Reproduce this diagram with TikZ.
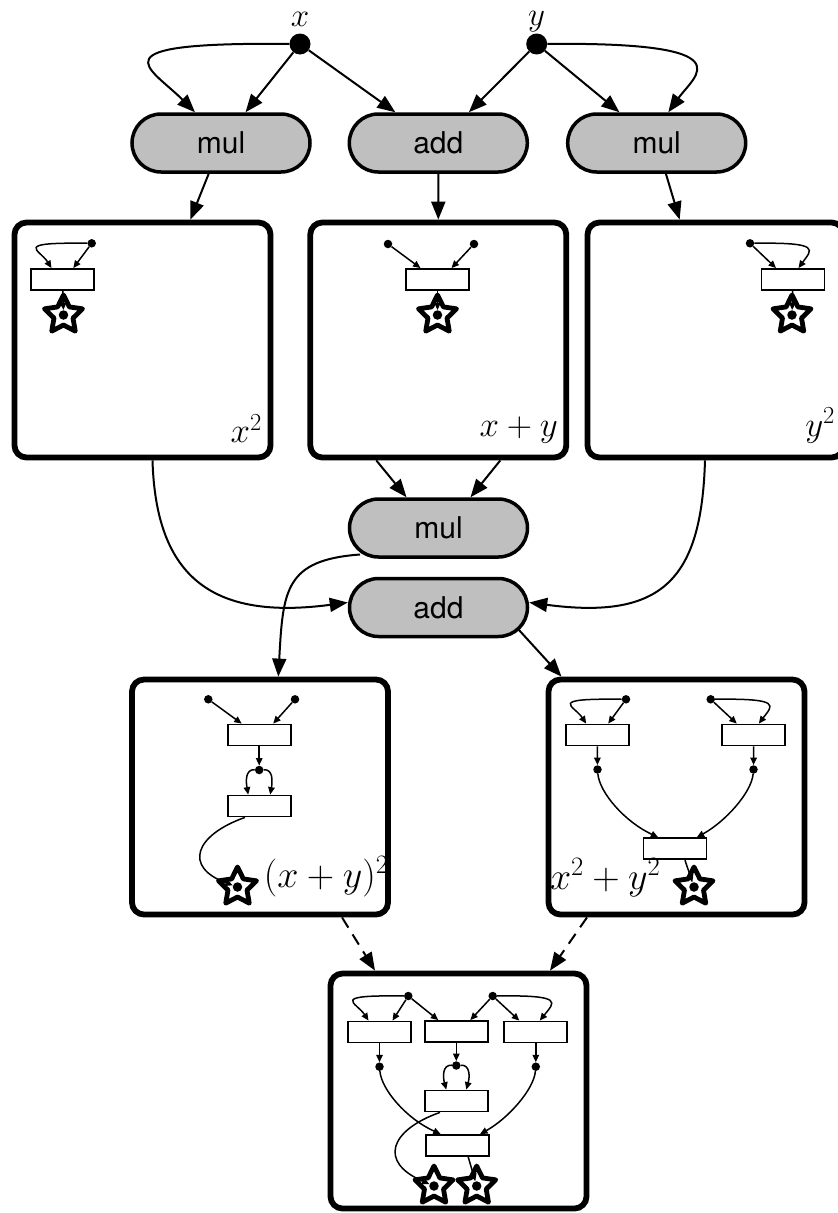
\RequirePackage{fix-cm}
\documentclass[tikz,border=0pt]{standalone}
\usepackage{fontspec}
\newfontfamily\pillfont{TeX Gyre Heros}
\usetikzlibrary{arrows.meta,shapes.misc,shapes.geometric,calc}

\begin{document}
\begin{tikzpicture}[x=1pt,y=-1pt,
  op/.style={rounded rectangle, draw, line width=3.5pt, fill=black!25,
    minimum width=178pt, minimum height=58pt, inner sep=0pt,
    font=\pillfont\fontsize{30}{36}\selectfont},
  panel/.style={draw, line width=5.8pt, rounded corners=12pt,
    minimum width=256pt, minimum height=235pt, inner sep=0pt},
  src/.style={circle, fill=black, inner sep=0pt, minimum size=21pt},
  flow/.style={line width=2pt, -{Triangle[length=18pt,width=14pt]}},
  port/.style={circle, fill=black, inner sep=0pt, minimum size=8.5pt},
  hub/.style={circle, fill=black, inner sep=0pt, minimum size=9.5pt},
  cell/.style={draw, line width=1.8pt, fill=white, minimum width=63pt,
    minimum height=21pt, inner sep=0pt},
  outstar/.style={star, star points=5, star point ratio=2.0, draw,
    line width=4.8pt, line join=round, fill=white, minimum size=40pt,
    inner sep=0pt},
  wire/.style={line width=1.5pt, -{Triangle[length=7.5pt,width=6.5pt]}},
  biglabel/.style={inner sep=0pt, font=\fontsize{35}{40}\selectfont},
  widelabel/.style={inner sep=0pt, font=\fontsize{38}{44}\selectfont},
  toplabel/.style={inner sep=0pt, font=\fontsize{33}{38}\selectfont},
]
\useasboundingbox (0,0) rectangle (838,1213);
\clip (0,0) rectangle (838,1213);

% inputs
\node[src] (xs) at (300,44) {};
\node[src] (ys) at (536.7,44) {};
\node[toplabel, anchor=base] (xl) at ([yshift=7pt]xs.north) {$x$};
\node[toplabel, anchor=base] (yl) at ([yshift=8pt]ys.north) {$y$};

% first operations
\node[op] (m1) at (221,143) {mul};
\node[op] (a1) at (438.3,143) {add};
\node[op] (m2) at (656.7,143) {mul};

% result panels
\node[panel] (b1) at (142.5,340) {};
\node[panel] (b2) at (438.3,340) {};
\node[panel] (b3) at (715.5,340) {};
\node[op] (m3) at (438.5,528) {mul};
\node[op] (a2) at (438.5,607.5) {add};
\node[panel] (b4) at (260,797) {};
\node[panel] (b5) at (676.5,797) {};
\node[panel] (b6) at (458.5,1091) {};

% panel labels
\node[biglabel, anchor=south east] (l1) at ($(b1.south east)+(-11.25,-17.25)$) {$x^2$};
\node[biglabel, anchor=south east] (l2) at ($(b2.south east)+(-11.25,-17.25)$) {$x+y$};
\node[biglabel, anchor=south east] (l3) at ($(b3.south east)+(-11.25,-17.25)$) {$y^2$};

% panel 1: x^2
\node[port] (p1a) at (91.7,243.3) {};
\node[cell] (c1a) at (62.5,279.5) {};
\node[outstar] (s1) at (63.5,315) {};
\node[hub] (s1d) at (63.5,315) {};
\draw[wire] (p1a) -- ([xshift=10.8pt]c1a.north);
\draw[wire] (p1a) .. controls (11.7,242.3) and (39.7,249.3) .. ([xshift=-11pt]c1a.north);
\draw[wire] (c1a) -- (s1d);

% panel 2: x+y
\node[port] (p2a) at (388,244) {};
\node[port] (p2b) at (474,244) {};
\node[cell] (c2a) at (437.5,279.5) {};
\node[outstar] (s2) at (437.5,315) {};
\node[hub] (s2d) at (437.5,315) {};
\draw[wire] (p2a) -- ([xshift=-17pt]c2a.north);
\draw[wire] (p2b) -- ([xshift=14pt]c2a.north);
\draw[wire] (c2a) -- (s2d);

% panel 3: y^2
\node[port] (p3a) at (750,243.3) {};
\node[cell] (c3a) at (793,279.5) {};
\node[outstar] (s3) at (792,315) {};
\node[hub] (s3d) at (792,315) {};
\draw[wire] (p3a) -- ([xshift=-17pt]c3a.north);
\draw[wire] (p3a) .. controls (822,242.3) and (812,249.3) .. ([xshift=5.5pt]c3a.north);
\draw[wire] (c3a) -- (s3d);

% panel 4: (x+y)^2
\node[port] (p4a) at (208.3,699.3) {};
\node[port] (p4b) at (295,699.3) {};
\node[cell] (c4a) at (259.2,735) {};
\node[port] (p4c) at (259.2,770) {};
\node[cell] (c4b) at (259.2,806) {};
\node[outstar] (s4) at (237.5,887) {};
\node[hub] (s4d) at (237.5,887) {};
\draw[wire] (p4a) -- ([xshift=-17.5pt]c4a.north);
\draw[wire] (p4b) -- ([xshift=14pt]c4a.north);
\draw[wire] (c4a) -- (p4c);
\draw[wire] (p4c) .. controls (245,769) and (246,782) .. ([xshift=-11pt]c4b.north);
\draw[wire] (p4c) .. controls (273.4,769) and (272.4,782) .. ([xshift=11pt]c4b.north);
\draw[wire] ([xshift=-14.2pt]c4b.south) .. controls (195,835) and (183,867) .. (s4d);
\node[widelabel, anchor=south east] (l4) at ($(b4.south east)+(-2.25,-20.5)$) {$(x+y)^2$};

% panel 5: x^2+y^2
\node[port] (p5a) at (626,699.3) {};
\node[port] (p5b) at (710.7,699.3) {};
\node[cell] (c5a) at (597.2,735) {};
\node[cell] (c5b) at (753.8,735) {};
\node[port] (p5c) at (597.5,769.5) {};
\node[port] (p5d) at (753.5,769.5) {};
\node[cell] (c5c) at (675,848.8) {};
\node[outstar] (s5) at (694,887) {};
\node[hub] (s5d) at (694,887) {};
\draw[wire] (p5a) .. controls (546,698.3) and (574,705.3) .. ([xshift=-11pt]c5a.north);
\draw[wire] (p5a) -- ([xshift=11pt]c5a.north);
\draw[wire] (p5b) -- ([xshift=-17pt]c5b.north);
\draw[wire] (p5b) .. controls (782.7,698.3) and (772.7,705.3) .. ([xshift=5pt]c5b.north);
\draw[wire] (c5a) -- (p5c);
\draw[wire] (c5b) -- (p5d);
\draw[wire] (p5c) .. controls (599.5,792.5) and (624.5,821.5) .. ([xshift=-16.7pt]c5c.north);
\draw[wire] (p5d) .. controls (751.5,792.5) and (725.5,821.5) .. ([xshift=21.7pt]c5c.north);
\draw[wire] ([xshift=10pt]c5c.south) -- (s5d);
\node[widelabel, anchor=south west] (l5) at ($(b5.south west)+(4.25,-20.5)$) {$x^2+y^2$};

% panel 6: combined graph
\node[port] (p6a) at (408.3,996) {};
\node[port] (p6b) at (492.7,996) {};
\node[cell] (c6a) at (379.5,1032) {};
\node[cell] (c6b) at (456.3,1031.5) {};
\node[cell] (c6c) at (535.8,1032) {};
\node[port] (p6c) at (379.5,1066.7) {};
\node[port] (p6d) at (456.3,1065.5) {};
\node[port] (p6e) at (535.8,1066.7) {};
\node[cell] (c6d) at (456.3,1101) {};
\node[cell] (c6e) at (457.2,1145.5) {};
\node[outstar] (s6a) at (434,1186) {};
\node[hub] (s6ad) at (434,1186) {};
\node[outstar] (s6b) at (476.7,1186) {};
\node[hub] (s6bd) at (476.7,1186) {};
\draw[wire] (p6a) .. controls (328.3,995) and (356.3,1002) .. ([xshift=-11pt]c6a.north);
\draw[wire] (p6a) -- ([xshift=13pt]c6a.north);
\draw[wire] (p6a) -- ([xshift=-18pt]c6b.north);
\draw[wire] (p6b) -- ([xshift=14pt]c6b.north);
\draw[wire] (p6b) -- ([xshift=-16.5pt]c6c.north);
\draw[wire] (p6b) .. controls (564.7,995) and (554.7,1002) .. ([xshift=4pt]c6c.north);
\draw[wire] (c6a) -- (p6c);
\draw[wire] (c6b) -- (p6d);
\draw[wire] (c6c) -- (p6e);
\draw[wire] (p6d) .. controls (442,1064.5) and (443,1077.5) .. ([xshift=-10pt]c6d.north);
\draw[wire] (p6d) .. controls (470.6,1064.5) and (469.6,1077.5) .. ([xshift=10pt]c6d.north);
\draw[wire] (p6c) .. controls (381.5,1089.7) and (406.5,1118.7) .. ([xshift=-16.5pt]c6e.north);
\draw[wire] (p6e) .. controls (533.8,1089.7) and (507.8,1118.7) .. ([xshift=22.8pt]c6e.north);
\draw[wire] ([xshift=-16.3pt]c6d.south) .. controls (390,1130) and (378,1162) .. (s6ad);
\draw[wire] ([xshift=11pt]c6e.south) -- (s6bd);

% main data flow
\draw[flow] (xs) .. controls (90,42) and (150,67) .. ([xshift=-26pt]m1.north);
\draw[flow] (xs) -- (m1);
\draw[flow] (xs) -- (a1);
\draw[flow] (ys) -- (a1);
\draw[flow] (ys) -- (m2);
\draw[flow] (ys) .. controls (748,42) and (695,75) .. ([xshift=11.6pt]m2.north);
\draw[flow] (m1) -- (b1);
\draw[flow] (a1) -- (b2);
\draw[flow] (m2) -- (b3);
\draw[flow] ([xshift=-62pt]b2.south) -- ([xshift=-32pt]m3.north);
\draw[flow] ([xshift=62pt]b2.south) -- ([xshift=32pt]m3.north);
\draw[flow] ([xshift=10pt]b1.south) .. controls (156,580) and (215,620) .. ($(a2.west)+(0,-5)$);
\draw[flow] ([xshift=-10.5pt]b3.south) .. controls (701.5,580) and (662,620) .. ($(a2.east)+(0,-5)$);
\draw[flow] ($(m3.center)+(-78.5,26.5)$) .. controls (285,560) and (283,590) .. ([xshift=18.3pt]b4.north);
\draw[flow] ($(a2.center)+(80,22)$) -- ([xshift=-115pt]b5.north);
\draw[flow, dash pattern=on 12pt off 8pt] ([xshift=82pt]b4.south) -- ([xshift=-83.5pt]b6.north);
\draw[flow, dash pattern=on 12pt off 8pt] ([xshift=-89.5pt]b5.south) -- ([xshift=91.5pt]b6.north);
\end{tikzpicture}
\end{document}
